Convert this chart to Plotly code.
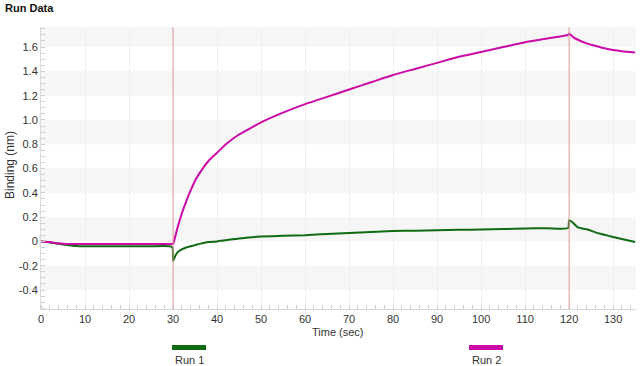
import plotly.graph_objects as go

# ---------------- data ----------------
time_s = [0, 2, 4, 6, 8, 10, 15, 20, 25, 29.8, 30, 30.5, 31, 32, 33, 34, 35, 36, 38, 40,
          42, 45, 48, 50, 55, 60, 65, 70, 75, 80, 85, 90, 95, 100, 105, 110, 115, 119.8,
          120, 121, 122, 124, 126, 128, 130, 132, 135]

run1 = [0.0, -0.008, -0.02, -0.03, -0.038, -0.04, -0.04, -0.04, -0.04, -0.045, -0.16, -0.12,
        -0.09, -0.065, -0.05, -0.04, -0.03, -0.02, -0.005, 0.0, 0.01, 0.025, 0.035, 0.04,
        0.047, 0.052, 0.062, 0.07, 0.077, 0.085, 0.089, 0.093, 0.096, 0.098, 0.102, 0.106,
        0.109, 0.11, 0.175, 0.15, 0.115, 0.10, 0.075, 0.055, 0.037, 0.02, -0.005]

run2 = [0.0, -0.005, -0.015, -0.02, -0.02, -0.02, -0.02, -0.02, -0.02, -0.02, -0.02, 0.04,
        0.11, 0.23, 0.33, 0.42, 0.50, 0.56, 0.66, 0.73, 0.80, 0.88, 0.94, 0.98, 1.06, 1.13,
        1.19, 1.25, 1.31, 1.37, 1.42, 1.47, 1.52, 1.56, 1.60, 1.64, 1.67, 1.70, 1.71, 1.68,
        1.66, 1.63, 1.61, 1.59, 1.575, 1.565, 1.555]

series_names = ["Run 1", "Run 2"]
series_colors = ["#0f6b12", "#cc0aa8"]
step_times = [30, 120]

y_tick_vals = [-0.4, -0.2, 0, 0.2, 0.4, 0.6, 0.8, 1.0, 1.2, 1.4, 1.6]
y_tick_text = ["-0.4", "-0.2", "0", "0.2", "0.4", "0.6", "0.8", "1.0", "1.2", "1.4", "1.6"]
x_tick_vals = list(range(0, 131, 10))
band_lows = [-0.4, 0.0, 0.4, 0.8, 1.2, 1.6]

# ---------------- figure ----------------
fig = go.Figure()
for name, ys, col in zip(series_names, [run1, run2], series_colors):
    fig.add_trace(go.Scatter(x=time_s, y=ys, mode="lines", name=name,
                             line=dict(color=col, width=2, shape="spline", smoothing=0.5),
                             showlegend=False, hoverinfo="skip"))

y_min, y_max = -0.556, 1.765
x_min, x_max = 0, 135.2

W, H = 640, 366
ML, MR, MT, MB = 41, 4, 27, 57
PW, PH = W - ML - MR, H - MT - MB


def px_x(px):
    return (px - ML) / PW


def px_y(py):
    return (H - MB - py) / PH


shapes = []
for lo in band_lows:
    shapes.append(dict(type="rect", xref="paper", yref="y", x0=0, x1=1,
                       y0=lo, y1=min(lo + 0.2, y_max), fillcolor="#f6f6f6",
                       line=dict(width=0), layer="below"))
for t in step_times:
    shapes.append(dict(type="line", xref="x", yref="paper", x0=t, x1=t, y0=0, y1=1,
                       line=dict(color="#e59a9a", width=1)))

annotations = [dict(text="<b>Run Data</b>", xref="paper", yref="paper", x=px_x(3), y=px_y(8),
                    xanchor="left", yanchor="middle", showarrow=False,
                    font=dict(size=11, color="#111111", family="Liberation Sans, Arial"))]

legend_px = [189, 486]
for name, col, lx in zip(series_names, series_colors, legend_px):
    shapes.append(dict(type="rect", xref="paper", yref="paper",
                       x0=px_x(lx - 17), x1=px_x(lx + 17), y0=px_y(350), y1=px_y(345),
                       fillcolor=col, line=dict(width=0)))
    annotations.append(dict(text=name, xref="paper", yref="paper", x=px_x(lx), y=px_y(360),
                            xanchor="center", yanchor="middle", showarrow=False,
                            font=dict(size=11, color="#333333")))

annotations.append(dict(text="Time (sec)", xref="paper", yref="paper", x=px_x(338), y=px_y(332),
                        xanchor="center", yanchor="middle", showarrow=False,
                        font=dict(size=11, color="#333333")))
annotations.append(dict(text="Binding (nm)", xref="paper", yref="paper", x=px_x(10), y=px_y(165),
                        xanchor="center", yanchor="middle", showarrow=False, textangle=-90,
                        font=dict(size=12, color="#333333")))

fig.update_layout(
    width=W, height=H,
    margin=dict(l=ML, r=MR, t=MT, b=MB, autoexpand=False),
    paper_bgcolor="white", plot_bgcolor="white",
    font=dict(family="Liberation Sans, Arial", size=11, color="#333333"),
    shapes=shapes, annotations=annotations,
    xaxis=dict(range=[x_min, x_max], tickvals=x_tick_vals, showgrid=True,
               gridcolor="#efefef", gridwidth=1, zeroline=False, automargin=False,
               showline=True, linecolor="#d8d8d8", ticks="", tickfont=dict(size=11),
               minor=dict(dtick=2, ticks="inside", ticklen=4, tickcolor="#d0d0d0",
                          showgrid=False)),
    yaxis=dict(range=[y_min, y_max], tickvals=y_tick_vals, ticktext=y_tick_text,
               showgrid=False, zeroline=False, showline=True, linecolor="#d8d8d8",
               ticks="", tickfont=dict(size=11), automargin=False,
               minor=dict(dtick=0.05, ticks="inside", ticklen=4, tickcolor="#d0d0d0",
                          showgrid=False)),
)

fig.write_html("out.html", config={"displayModeBar": False, "staticPlot": True},
               post_script="document.body.style.margin='0';document.body.style.overflow='hidden';")
